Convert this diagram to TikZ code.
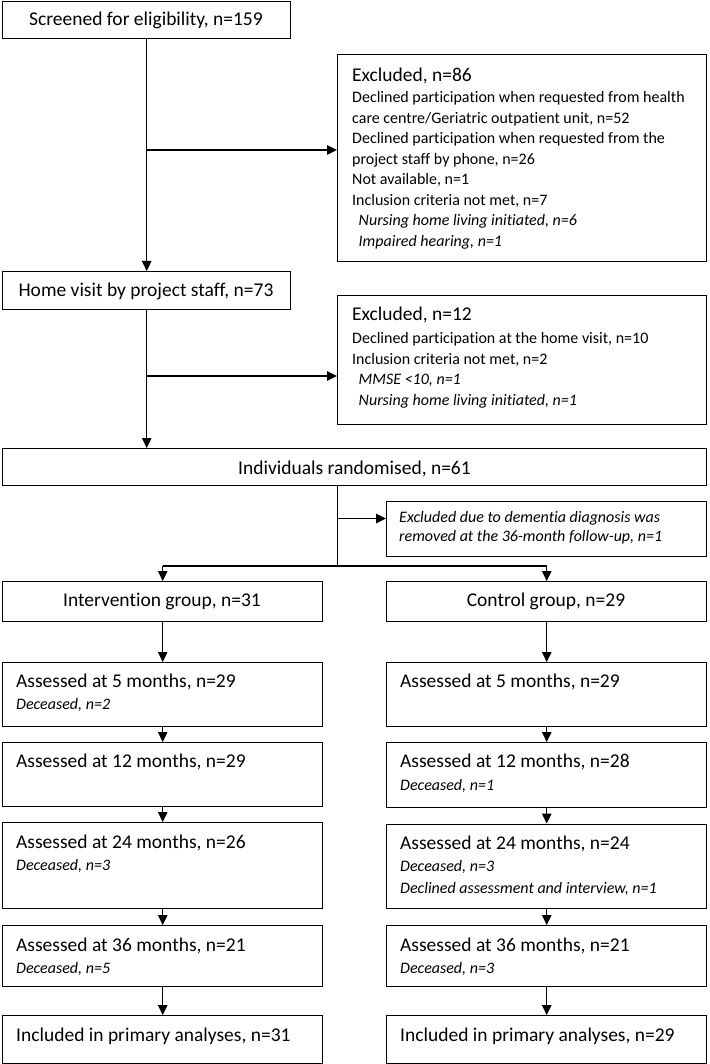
\documentclass[tikz,border=0pt]{standalone}
\usepackage{fontspec}
\setmainfont{Carlito}[Ligatures=NoCommon]
\usetikzlibrary{arrows.meta}
\tikzset{
  box/.style={draw=black, line width=1.4pt, inner sep=0pt, anchor=north west},
  arr/.style={line width=1.2pt, -{Triangle[length=10pt,width=9.5pt]}},
  ln/.style={line width=1.2pt},
  big/.style={inner sep=0pt, anchor=base west, font=\fontsize{19.5}{22}\selectfont},
  bigc/.style={big, anchor=base},
  sm/.style={inner sep=0pt, anchor=base west, font=\fontsize{16}{18}\selectfont},
  smi/.style={inner sep=0pt, anchor=base west, font=\fontsize{16}{18}\selectfont\itshape}
}
\begin{document}
\begin{tikzpicture}[x=1pt,y=-1pt]
\useasboundingbox (0,0) rectangle (709,1064);
% boxes
\node[box, minimum width=288pt, minimum height=37pt] (scr) at (2,1) {};
\node[box, minimum width=369pt, minimum height=207pt] (ex1) at (337,54) {};
\node[box, minimum width=288pt, minimum height=38pt] (home) at (2,271) {};
\node[box, minimum width=369pt, minimum height=129pt] (ex2) at (337,294.5) {};
\node[box, minimum width=704pt, minimum height=37pt] (rand) at (2,448) {};
\node[box, minimum width=320pt, minimum height=55pt] (dem) at (386,501) {};
\node[box, minimum width=320pt, minimum height=40pt] (int) at (2,581) {};
\node[box, minimum width=320pt, minimum height=40pt] (ctl) at (386,581) {};
\node[box, minimum width=320pt, minimum height=64pt] (a5L) at (2,662) {};
\node[box, minimum width=320pt, minimum height=64pt] (a5R) at (386,662) {};
\node[box, minimum width=320pt, minimum height=64pt] (a12L) at (2,742) {};
\node[box, minimum width=320pt, minimum height=65pt] (a12R) at (386,742) {};
\node[box, minimum width=320pt, minimum height=86pt] (a24L) at (2,822) {};
\node[box, minimum width=320pt, minimum height=84.5pt] (a24R) at (386,823.5) {};
\node[box, minimum width=320pt, minimum height=61pt] (a36L) at (2,925) {};
\node[box, minimum width=320pt, minimum height=61pt] (a36R) at (386,925) {};
\node[box, minimum width=320pt, minimum height=48pt] (incL) at (2,1015) {};
\node[box, minimum width=320pt, minimum height=48pt] (incR) at (386,1015) {};
% texts
\node[bigc] (tscr) at (146,26) {Screened for eligibility, n=159};
\node[big] (tex1) at (352,81.5) {Excluded, n=86};
\node[sm] (tex1a) at (352,103) {Declined participation when requested from health};
\node[sm] (tex1b) at (352,123.5) {care centre/Geriatric outpatient unit, n=52};
\node[sm] (tex1c) at (352,144) {Declined participation when requested from the};
\node[sm] (tex1d) at (352,164.5) {project staff by phone, n=26};
\node[sm] (tex1e) at (352,185) {Not available, n=1};
\node[sm] (tex1f) at (352,205.5) {Inclusion criteria not met, n=7};
\node[smi] (tex1g) at (358.5,226) {Nursing home living initiated, n=6};
\node[smi] (tex1h) at (358.5,246.5) {Impaired hearing, n=1};
\node[bigc] (thome) at (146,296) {Home visit by project staff, n=73};
\node[big] (tex2) at (352,320.5) {Excluded, n=12};
\node[sm] (tex2a) at (352,343.5) {Declined participation at the home visit, n=10};
\node[sm] (tex2b) at (352,364) {Inclusion criteria not met, n=2};
\node[smi] (tex2c) at (358.5,384.5) {MMSE <10, n=1};
\node[smi] (tex2d) at (358.5,405) {Nursing home living initiated, n=1};
\node[bigc] (trand) at (354.5,474.5) {Individuals randomised, n=61};
\node[smi] (tdema) at (399,522.5) {Excluded due to dementia diagnosis was};
\node[smi] (tdemb) at (399,541.5) {removed at the 36-month follow-up, n=1};
\node[bigc] (tint) at (162,606.5) {Intervention group, n=31};
\node[bigc] (tctl) at (546,606.5) {Control group, n=29};
\node[big] (ta5L) at (16,687.5) {Assessed at 5 months, n=29};
\node[smi] (ta5Ld) at (16,709.5) {Deceased, n=2};
\node[big] (ta5R) at (400,687.5) {Assessed at 5 months, n=29};
\node[big] (ta12L) at (16,767.5) {Assessed at 12 months, n=29};
\node[big] (ta12R) at (400,767.5) {Assessed at 12 months, n=28};
\node[smi] (ta12Rd) at (400,790) {Deceased, n=1};
\node[big] (ta24L) at (16,848) {Assessed at 24 months, n=26};
\node[smi] (ta24Ld) at (16,870.5) {Deceased, n=3};
\node[big] (ta24R) at (400,849.5) {Assessed at 24 months, n=24};
\node[smi] (ta24Rd) at (400,871.5) {Deceased, n=3};
\node[smi] (ta24Re) at (400,893) {Declined assessment and interview, n=1};
\node[big] (ta36L) at (16,951.5) {Assessed at 36 months, n=21};
\node[smi] (ta36Ld) at (16,973.5) {Deceased, n=5};
\node[big] (ta36R) at (400,951.5) {Assessed at 36 months, n=21};
\node[smi] (ta36Rd) at (400,973.5) {Deceased, n=3};
\node[big] (tincL) at (16,1041.5) {Included in primary analyses, n=31};
\node[big] (tincR) at (400,1041.5) {Included in primary analyses, n=29};
% connectors
\coordinate (b1) at (146,150);
\coordinate (b2) at (146,376);
\coordinate (rtop) at (337.5,485);
\coordinate (b3) at (337.5,518.5);
\coordinate (split) at (337.5,566);
\draw[arr] (scr.south) -- (home.north);
\draw[arr] (b1) -- (b1 -| ex1.west);
\draw[arr] (home.south) -- (home.south |- rand.north);
\draw[arr] (b2) -- (b2 -| ex2.west);
\draw[ln] (rtop) -- (split);
\draw[arr] (b3) -- (b3 -| dem.west);
\draw[ln] (int.north |- split) -- (ctl.north |- split);
\draw[arr] (int.north |- split) -- (int.north);
\draw[arr] (ctl.north |- split) -- (ctl.north);
\draw[arr] (int.south) -- (a5L.north);
\draw[arr] (a5L.south) -- (a12L.north);
\draw[arr] (a12L.south) -- (a24L.north);
\draw[arr] (a24L.south) -- (a36L.north);
\draw[arr] (a36L.south) -- (incL.north);
\draw[arr] (ctl.south) -- (a5R.north);
\draw[arr] (a5R.south) -- (a12R.north);
\draw[arr] (a12R.south) -- (a24R.north);
\draw[arr] (a24R.south) -- (a36R.north);
\draw[arr] (a36R.south) -- (incR.north);
\end{tikzpicture}
\end{document}
